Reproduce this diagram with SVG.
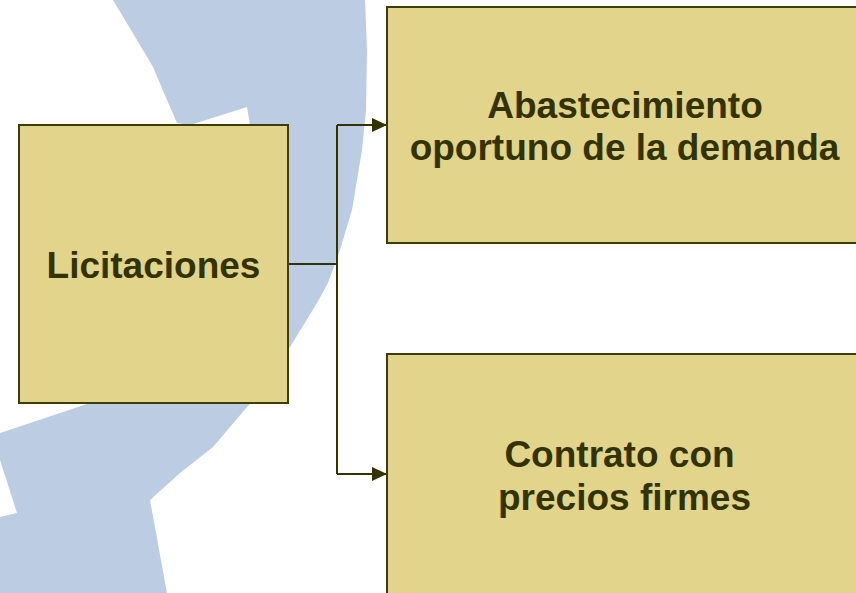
<svg xmlns="http://www.w3.org/2000/svg" width="856" height="593" viewBox="0 0 856 593">
<defs>
<style>
.box{fill:#E3D48B;stroke:#3D3D0A;stroke-width:2}
.lbl{font-family:"Liberation Sans",Arial,sans-serif;font-weight:bold;font-size:37px;fill:#333300;text-anchor:middle}
.conn{fill:none;stroke:#333300;stroke-width:2}
</style>
<marker id="arr" viewBox="0 0 15 14" refX="15" refY="7" markerWidth="15" markerHeight="14" markerUnits="userSpaceOnUse" orient="auto">
<path d="M0,0 L15,7 L0,14 Z" fill="#333300"/>
</marker>
</defs>
<rect x="0" y="0" width="856" height="593" fill="#FFFFFF"/>
<g id="background">
<path d="M113,0 L365,0 L367,50 L366,110 L362,150 L352,210 L340,250 L328,283 L317,303 L290,347 L253,400 L213,447 L180,473 L150,500 L167,593 L0,593 L0,517 L17,513 L0,460 L0,433 L90,403 L250,128 L250,125 L247,107 L190,125 L177,123 L167,100 L153,67 L137,40 Z" fill="#BCCDE3"/>
</g>
<g id="connectors">
<path class="conn" d="M288,264 H337"/>
<path class="conn" d="M337,125 V474"/>
<path class="conn" d="M337,125 H387" marker-end="url(#arr)"/>
<path class="conn" d="M337,474 H387" marker-end="url(#arr)"/>
</g>
<g id="node-licitaciones">
<rect class="box" x="19" y="125" width="269" height="278"/>
<text class="lbl" x="153.5" y="277.5">Licitaciones</text>
</g>
<g id="node-abastecimiento">
<rect class="box" x="387" y="7" width="476" height="236"/>
<text class="lbl" x="625" y="117.5">Abastecimiento</text>
<text class="lbl" x="624.5" y="159.5">oportuno de la demanda</text>
</g>
<g id="node-contrato">
<rect class="box" x="387" y="354" width="476" height="250"/>
<text class="lbl" x="619.5" y="466.5">Contrato con</text>
<text class="lbl" x="624.5" y="509.5">precios firmes</text>
</g>
</svg>
